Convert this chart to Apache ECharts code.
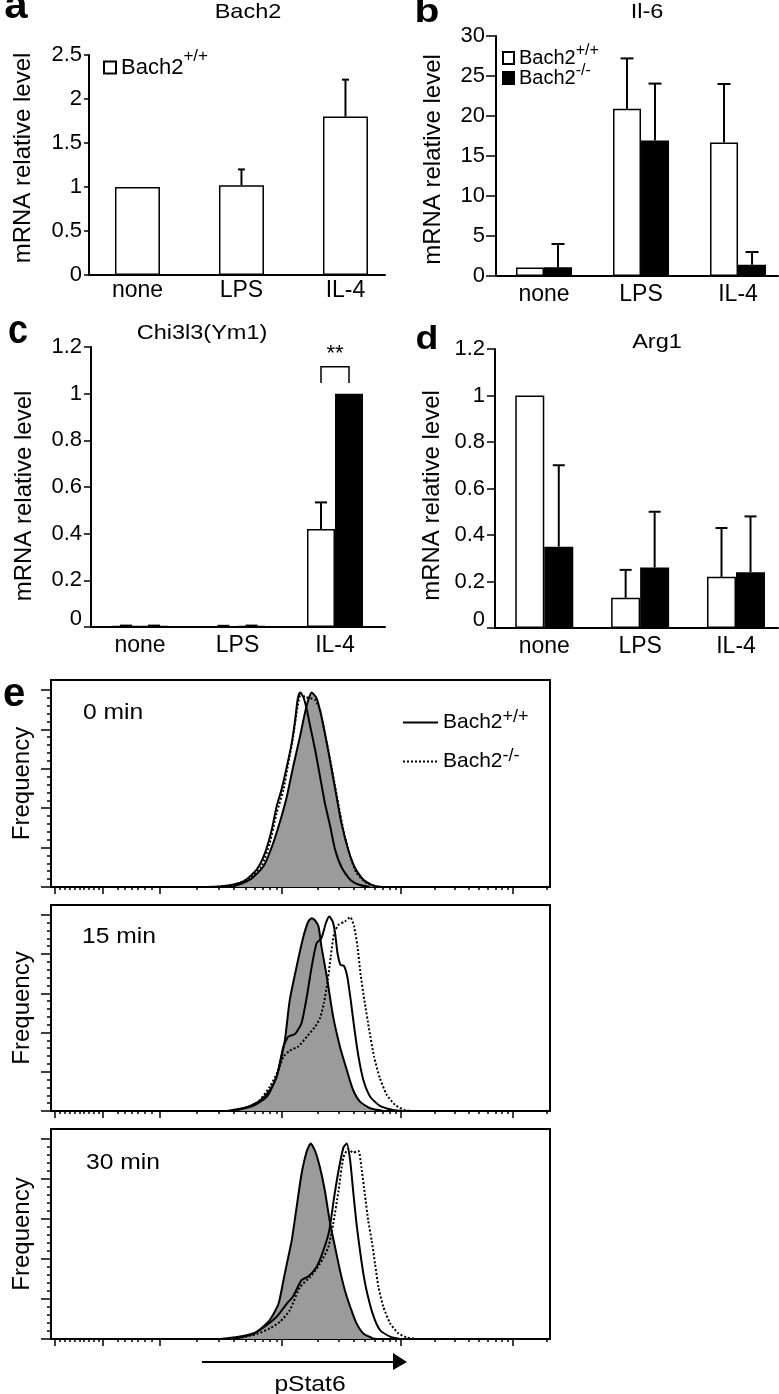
<!DOCTYPE html>
<html><head><meta charset="utf-8">
<script src="https://cdn.jsdelivr.net/npm/echarts@6/dist/echarts.min.js"></script>
<style>html,body{margin:0;padding:0;background:#fff}#c{width:779px;height:1394px}</style>
</head><body><div id="c"></div>
<script>
// ---------------- data ----------------
const categories = ['none', 'LPS', 'IL-4'];
const seriesNames = ['Bach2+/+', 'Bach2-/-'];
const histNames = ['Bach2+/+ pStat6', 'Bach2-/- pStat6'];
const timeLabels = ['0 min', '15 min', '30 min'];

// a: Bach2
const aWT = [1.0, 1.02, 1.8];
const aWTErr = [0, 0.18, 0.42];
// b: Il-6
const bWT = [1.05, 20.9, 16.7];
const bWTErr = [0, 6.3, 7.3];
const bKO = [1.1, 16.95, 1.4];
const bKOErr = [2.9, 7.1, 1.6];
// c: Chi3l3(Ym1)
const cWT = [0.004, 0.003, 0.42];
const cWTErr = [0.002, 0.002, 0.114];
const cKO = [0.004, 0.004, 1.0];
const cKOErr = [0.002, 0.002, 0];
const cSig = [{cat: 2, label: '**'}];
// d: Arg1
const dWT = [1.0, 0.13, 0.22];
const dWTErr = [0, 0.12, 0.21];
const dKO = [0.35, 0.26, 0.24];
const dKOErr = [0.35, 0.24, 0.24];

// e: pStat6 histograms, [channel, % of max]
const e0Gray = [[350,0],[374,0.3],[408,3.7],[436,10.5],[456,22.3],[473,35.8],[484,45.9],[497,61.1],[511,76.4],[521,88.2],[528,94.9],[535,98.6],[545,95.8],[555,86.5],[566,73.0],[576,59.5],[586,45.9],[596,32.4],[610,18.9],[624,9.6],[641,3.7],[661,0.7],[682,0]];
const e0WT = [[319,0],[361,0.7],[395,2.9],[422,8.8],[439,17.2],[453,29.1],[463,40.9],[473,49.3],[484,61.1],[494,73.0],[501,84.8],[506,94.9],[511,98.6],[518,96.3],[525,89.9],[532,81.4],[542,69.6],[552,56.1],[562,42.6],[573,30.7],[583,18.9],[597,9.6],[614,3.7],[634,1.0],[655,0]];
const e0KO = [[333,0],[374,1.0],[408,4.6],[432,10.5],[449,22.3],[463,37.5],[477,49.3],[487,62.8],[497,76.4],[506,91.6],[513,98.3],[521,96.3],[532,95.8],[542,94.9],[552,89.9],[562,78.0],[573,64.5],[583,51.0],[593,37.5],[603,25.7],[614,15.5],[627,7.1],[648,2.0],[675,0]];

const e15Gray = [[361,0],[402,1.9],[429,5.3],[449,10.7],[463,17.5],[473,27.7],[480,36.2],[490,56.6],[504,73.6],[518,88.9],[528,96.6],[535,98.3],[542,97.1],[549,94.0],[555,83.8],[566,68.5],[579,48.1],[593,32.8],[607,20.9],[620,10.7],[634,4.8],[655,1.4],[682,0]];
const e15WT = [[374,0],[415,2.6],[443,7.3],[463,17.5],[477,32.8],[487,37.9],[501,39.3],[514,44.7],[525,58.3],[535,73.6],[545,85.5],[555,88.1],[564,95.7],[571,99.1],[578,96.6],[583,90.6],[588,80.4],[594,74.5],[601,74.0],[608,68.5],[615,56.6],[622,43.0],[631,27.7],[641,15.8],[655,7.3],[675,2.6],[702,0.5],[723,0]];
const e15KO = [[374,0],[422,3.9],[449,12.4],[467,20.9],[477,27.7],[490,30.8],[507,32.8],[525,37.9],[542,43.0],[552,47.3],[560,54.9],[568,66.8],[574,78.7],[581,90.6],[590,94.9],[603,96.6],[614,98.8],[622,94.0],[629,83.8],[635,70.2],[643,56.6],[653,41.3],[663,27.7],[675,16.7],[689,8.2],[706,3.1],[726,0.5],[740,0]];

const e30Gray = [[347,0],[388,1.2],[422,3.6],[449,9.5],[467,17.7],[477,29.4],[484,37.6],[494,49.3],[504,65.8],[514,82.4],[525,94.0],[533,97.7],[542,94.0],[552,85.7],[562,74.1],[573,57.5],[583,45.9],[593,34.3],[603,24.4],[614,16.1],[627,7.8],[641,2.8],[661,0.3],[682,0]];
const e30WT = [[374,0],[415,2.5],[443,7.0],[463,11.1],[484,17.7],[497,21.4],[514,29.4],[528,31.3],[545,36.0],[559,44.3],[571,54.2],[581,70.8],[590,84.1],[600,95.7],[607,97.7],[614,89.1],[620,74.1],[627,57.5],[634,44.3],[641,32.7],[649,22.7],[661,11.9],[675,4.5],[696,1.2],[716,0]];
const e30KO = [[374,0],[422,2.5],[449,5.3],[470,8.6],[490,14.4],[511,26.0],[532,31.0],[552,37.6],[569,45.9],[579,57.5],[590,74.1],[600,90.7],[610,94.9],[620,93.2],[631,94.0],[637,85.7],[644,72.5],[651,59.2],[658,49.3],[665,37.6],[672,26.0],[682,16.1],[696,7.8],[713,2.8],[730,0.8],[750,0]];

// x tick positions (channel units) of the biexponential pStat6 axis
const histMajorTicks = [8, 107, 224, 474, 718, 948];
const histLinearMinor = [18, 28, 38, 48, 58, 68, 78, 88, 98, 137, 151, 165, 179, 193, 207];
const histDecades = [224, 474, 718, 948, 1178];
const freqMajorTicks = [0, 20, 40, 60, 80, 100];

// ---------------- helpers ----------------
const FONT = '"Liberation Sans", Arial, Helvetica, sans-serif';
const BLACK = '#000';
const histMinorTicks = histLinearMinor.slice();
for (let i = 0; i < histDecades.length - 1; i++) {
  for (let k = 2; k <= 9; k++) {
    const v = histDecades[i] + Math.log10(k) * (histDecades[i + 1] - histDecades[i]);
    if (v < 1024) histMinorTicks.push(v);
  }
}
const freqMinorTicks = [];
for (let v = 0; v <= 100; v += 4) if (v % 20) freqMinorTicks.push(v);

const supFmt = name => {
  const m = name.match(/^(Bach2)(\S+)/);
  return '{b|' + m[1] + '}{s|' + m[2] + '}';
};
const legendRich = (fs, sfs, raise) => ({
  b: {fontSize: fs, fontFamily: FONT, color: BLACK},
  s: {fontSize: sfs, fontFamily: FONT, color: BLACK, padding: [0, 0, raise, 0]}
});

function barX(idx, min, max, margin) {
  return {type: 'value', gridIndex: idx, min, max,
    axisLine: {show: true, onZero: false, lineStyle: {color: BLACK, width: 2}},
    axisTick: {show: false}, splitLine: {show: false},
    axisLabel: {customValues: [0, 1, 2], formatter: v => categories[Math.round(v)],
      color: BLACK, fontSize: 23, fontFamily: FONT, margin}};
}
function barY(idx, max, interval, tickLen, margin, nameGap, namePad, raiseZero) {
  return {type: 'value', gridIndex: idx, min: 0, max, interval,
    axisLine: {show: true, onZero: false, lineStyle: {color: BLACK, width: 2}},
    axisTick: {show: true, length: tickLen, lineStyle: {color: BLACK, width: 1.5}},
    splitLine: {show: false},
    axisLabel: {color: BLACK, fontSize: 22, fontFamily: FONT, margin,
      formatter: v => (raiseZero && v === 0) ? '{z|0}' : String(v),
      rich: {z: {fontSize: 22, fontFamily: FONT, color: BLACK, padding: [0, 0, 17, 0]}}},
    name: 'mRNA relative level', nameLocation: 'middle', nameGap, nameRotate: 90,
    nameTextStyle: {color: BLACK, fontSize: 24, fontFamily: FONT, padding: namePad}};
}
function barSeries(name, idx, vals, width, fill) {
  return {type: 'bar', name, xAxisIndex: idx, yAxisIndex: idx, silent: true,
    data: vals.map((v, i) => [i, v]), barWidth: width, barGap: '0%',
    itemStyle: {color: fill, borderColor: BLACK, borderWidth: 1.5}};
}
function errSeries(idx, vals, errs, offset, capHalf) {
  return {type: 'custom', name: 'err', xAxisIndex: idx, yAxisIndex: idx, z: 5, silent: true,
    data: vals.map((v, i) => [i, v, errs[i]]),
    renderItem: (params, api) => {
      const e = api.value(2);
      if (!e) return null;
      const x = api.value(0), v = api.value(1);
      const p0 = api.coord([x, v]), p1 = api.coord([x, v + e]);
      const cx = p0[0] + offset;
      return {type: 'group', children: [
        {type: 'line', shape: {x1: cx, y1: p0[1], x2: cx, y2: p1[1]}, style: {stroke: BLACK, lineWidth: 2}},
        {type: 'line', shape: {x1: cx - capHalf, y1: p1[1], x2: cx + capHalf, y2: p1[1]}, style: {stroke: BLACK, lineWidth: 2}}
      ]};
    }};
}
function histX(idx, ticks, len, showLine) {
  return {type: 'value', gridIndex: idx, min: 0, max: 1024, position: 'bottom',
    axisLine: {show: showLine, onZero: false, lineStyle: {color: BLACK, width: 2}},
    axisTick: {show: true, customValues: ticks, length: len, lineStyle: {color: BLACK, width: 1.5}},
    axisLabel: {show: false}, splitLine: {show: false}};
}
function histY(idx, ticks, len, showLine, withName) {
  const ax = {type: 'value', gridIndex: idx, min: 0, max: 105, position: 'left',
    axisLine: {show: showLine, onZero: false, lineStyle: {color: BLACK, width: 2}},
    axisTick: {show: true, customValues: ticks, length: len, lineStyle: {color: BLACK, width: 1.5}},
    axisLabel: {show: false}, splitLine: {show: false}};
  if (withName) Object.assign(ax, {name: 'Frequency', nameLocation: 'middle', nameGap: 17, nameRotate: 90,
    nameTextStyle: {color: BLACK, fontSize: 24, fontFamily: FONT}});
  return ax;
}
function histSeries(k, gray, wt, ko) {
  const ax = 4 + k * 2;
  const base = {type: 'line', xAxisIndex: ax, yAxisIndex: ax, symbol: 'none', smooth: 0.2, silent: true,
    itemStyle: {color: BLACK}};
  return [
    Object.assign({}, base, {name: 'control', data: gray, z: 2,
      lineStyle: {color: BLACK, width: 2}, areaStyle: {color: '#9b9b9b', opacity: 1}}),
    Object.assign({}, base, {name: histNames[0], data: wt, z: 3, lineStyle: {color: BLACK, width: 2}}),
    Object.assign({}, base, {name: histNames[1], data: ko, z: 4, lineStyle: {color: BLACK, width: 2, type: [2, 2]}})
  ];
}
const txt = (text, x, y, font, align, sx) => ({type: 'text', x, y, silent: true, scaleX: sx || 1.12,
  style: {text, fill: BLACK, font: font + ' ' + FONT, align: align || 'center', verticalAlign: 'middle',
    textAlign: align || 'center', textVerticalAlign: 'middle'}});

const histGridBase = {left: 51, width: 499, show: true, borderColor: BLACK, borderWidth: 2, backgroundColor: 'transparent'};

const option = {
  animation: false,
  textStyle: {fontFamily: FONT},
  grid: [
    {left: 89, top: 55, width: 296, height: 220},
    {left: 496, top: 36, width: 282, height: 240},
    {left: 91, top: 347, width: 294, height: 280},
    {left: 495, top: 349, width: 283, height: 279},
    Object.assign({top: 680, height: 207}, histGridBase),
    Object.assign({top: 905, height: 206}, histGridBase),
    Object.assign({top: 1129, height: 210}, histGridBase)
  ],
  xAxis: [
    barX(0, -0.466, 2.38, 4),
    barX(1, -0.495, 2.412, 7),
    barX(2, -0.503, 2.513, 7),
    barX(3, -0.514, 2.438, 7),
    histX(4, histMajorTicks, 7, true), histX(4, histMinorTicks, 3, false),
    histX(5, histMajorTicks, 7, true), histX(5, histMinorTicks, 3, false),
    histX(6, histMajorTicks, 7, true), histX(6, histMinorTicks, 3, false)
  ],
  yAxis: [
    barY(0, 2.5, 0.5, 5, 7, 54, [0, 0, 0, 14], false),
    barY(1, 30, 5, 10, 11, 51, [0, 7, 0, 0], false),
    barY(2, 1.2, 0.2, 7, 9, 55, [0, 18, 0, 0], true),
    barY(3, 1.2, 0.2, 8, 10, 51, [0, 14, 0, 0], true),
    histY(4, freqMajorTicks, 10, true, true), histY(4, freqMinorTicks, 4, false, false),
    histY(5, freqMajorTicks, 10, true, true), histY(5, freqMinorTicks, 4, false, false),
    histY(6, freqMajorTicks, 10, true, true), histY(6, freqMinorTicks, 4, false, false)
  ],
  legend: [
    {data: [seriesNames[0]], left: 103, top: 48, padding: 0, orient: 'vertical', icon: 'rect', itemWidth: 12, itemHeight: 12,
      selectedMode: false, formatter: supFmt, textStyle: {color: BLACK, rich: legendRich(22, 17, 22)}},
    {data: seriesNames, left: 502, top: 43, padding: 0, orient: 'vertical', icon: 'rect', itemWidth: 11, itemHeight: 12, itemGap: -5,
      selectedMode: false, formatter: supFmt, textStyle: {color: BLACK, rich: legendRich(20, 16, 14)}},
    {data: histNames, left: 402, top: 708, padding: 0, orient: 'vertical', itemWidth: 35, itemHeight: 14, itemGap: 14,
      itemStyle: {opacity: 0},
      selectedMode: false, formatter: supFmt, textStyle: {color: BLACK, rich: legendRich(21, 18, 11)}}
  ],
  series: [
    barSeries(seriesNames[0], 0, aWT, 45, '#fff'),
    barSeries(seriesNames[0], 1, bWT, 28, '#fff'),
    barSeries(seriesNames[1], 1, bKO, 28, '#000'),
    barSeries(seriesNames[0], 2, cWT, 28, '#fff'),
    barSeries(seriesNames[1], 2, cKO, 28, '#000'),
    barSeries(seriesNames[0], 3, dWT, 29, '#fff'),
    barSeries(seriesNames[1], 3, dKO, 29, '#000'),
    errSeries(0, aWT, aWTErr, 0, 3.5),
    errSeries(1, bWT, bWTErr, -14, 6.5),
    errSeries(1, bKO, bKOErr, 14, 6.5),
    errSeries(2, cWT, cWTErr, -14, 6),
    errSeries(2, cKO, cKOErr, 14, 6),
    errSeries(3, dWT, dWTErr, -14.5, 6),
    errSeries(3, dKO, dKOErr, 14.5, 6),
    {type: 'custom', name: 'sig', xAxisIndex: 2, yAxisIndex: 2, z: 6, silent: true,
      data: cSig.map(s => [s.cat, Math.max(cWT[s.cat] + cWTErr[s.cat], cKO[s.cat] + cKOErr[s.cat])]),
      renderItem: (params, api) => {
        const x = api.value(0), top = api.value(1);
        const c = api.coord([x, top]);
        const yb = api.coord([x, top + 0.046])[1], yt = api.coord([x, top + 0.115])[1], ys = api.coord([x, top + 0.17])[1];
        return {type: 'group', children: [
          {type: 'polyline', shape: {points: [[c[0] - 14, yb], [c[0] - 14, yt], [c[0] + 14, yt], [c[0] + 14, yb]]},
            style: {stroke: BLACK, lineWidth: 1.5, fill: null}},
          {type: 'text', x: c[0], y: ys, style: {text: cSig[params.dataIndex].label, fill: BLACK,
            font: '22px ' + FONT, align: 'center', verticalAlign: 'middle'}}
        ]};
      }},
    ...histSeries(0, e0Gray, e0WT, e0KO),
    ...histSeries(1, e15Gray, e15WT, e15KO),
    ...histSeries(2, e30Gray, e30WT, e30KO)
  ],
  graphic: [
    txt('a', 16, 7, 'bold 40px', 'center', 1.05),
    txt('b', 427, 13, 'bold 34px', 'center', 1.2),
    txt('c', 18, 332, 'bold 40px', 'center', 0.9),
    txt('d', 427, 340, 'bold 34px', 'center', 1.1),
    txt('e', 14, 695, 'bold 40px', 'center', 1.0),
    txt('Bach2', 248, 12, '21px'),
    txt('Il-6', 647, 12, '21px'),
    txt('Chi3l3(Ym1)', 202, 333, '21px'),
    txt('Arg1', 657, 342, '21px'),
    txt(timeLabels[0], 83, 713, '22px', 'left'),
    txt(timeLabels[1], 82, 937, '22px', 'left'),
    txt(timeLabels[2], 86, 1163, '22px', 'left'),
    {type: 'line', silent: true, shape: {x1: 202, y1: 1362, x2: 395, y2: 1362}, style: {stroke: BLACK, lineWidth: 2}},
    {type: 'polygon', silent: true, shape: {points: [[393, 1353], [407, 1362], [393, 1370]]}, style: {fill: BLACK}},
    txt('pStat6', 310, 1385, '22px')
  ]
};
const chart = echarts.init(document.getElementById('c'), null, {renderer: 'canvas', width: 779, height: 1394});
chart.setOption(option);
</script>
</body></html>
